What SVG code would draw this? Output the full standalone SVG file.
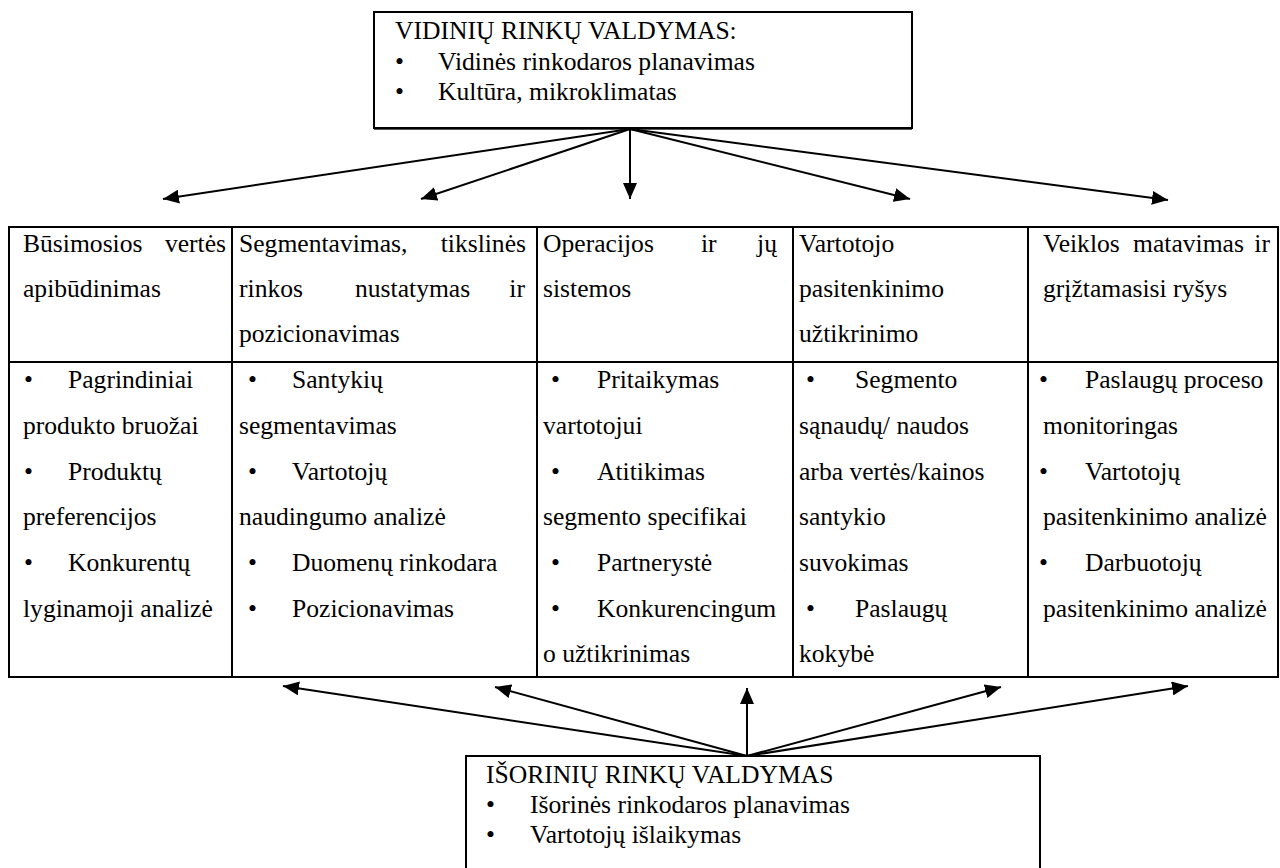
<svg xmlns="http://www.w3.org/2000/svg" width="1280" height="868" viewBox="0 0 1280 868">
<defs>
<marker id="ah" markerUnits="userSpaceOnUse" markerWidth="17" markerHeight="14" refX="16" refY="7" orient="auto">
<path d="M0,0 L16,7 L0,14 z" fill="#000"/>
</marker>
<style>
text{font-family:"Liberation Serif","Times New Roman",serif;font-size:25.6px;fill:#000}
.box{fill:#fff;stroke:#000;stroke-width:2}
.grid{stroke:#000;stroke-width:2;fill:none}
.con{stroke:#000;stroke-width:2;fill:none;marker-end:url(#ah)}
.e{text-anchor:end}
</style>
</defs>
<rect width="1280" height="868" fill="#fff"/>

<g id="top-box">
<rect class="box" x="374" y="12" width="538" height="116"/>
<line x1="374" y1="129.5" x2="912" y2="129.5" stroke="#555" stroke-width="1"/>
<text x="395" y="39">VIDINIŲ RINKŲ VALDYMAS:</text>
<text x="395" y="70">•</text><text x="438" y="70">Vidinės rinkodaros planavimas</text>
<text x="395" y="100">•</text><text x="438" y="100">Kultūra, mikroklimatas</text>
</g>

<g id="table">
<rect class="grid" x="9" y="227" width="1269" height="450"/>
<line class="grid" x1="9" y1="362" x2="1278" y2="362"/>
<line class="grid" x1="232" y1="227" x2="232" y2="677"/>
<line class="grid" x1="537" y1="227" x2="537" y2="677"/>
<line class="grid" x1="793" y1="227" x2="793" y2="677"/>
<line class="grid" x1="1028" y1="227" x2="1028" y2="677"/>
</g>

<g id="col1">
<text x="23" y="252">Būsimosios</text><text class="e" x="226" y="252">vertės</text>
<text x="23" y="297">apibūdinimas</text>
<text x="24" y="388">•</text><text x="68" y="388">Pagrindiniai</text>
<text x="23" y="434">produkto bruožai</text>
<text x="24" y="480">•</text><text x="68" y="480">Produktų</text>
<text x="23" y="525">preferencijos</text>
<text x="24" y="571">•</text><text x="68" y="571">Konkurentų</text>
<text x="23" y="617">lyginamoji analizė</text>
</g>

<g id="col2">
<text x="239" y="252">Segmentavimas,</text><text class="e" x="526" y="252">tikslinės</text>
<text x="239" y="297">rinkos</text><text x="355" y="297">nustatymas</text><text class="e" x="525" y="297">ir</text>
<text x="239" y="342">pozicionavimas</text>
<text x="248" y="388">•</text><text x="292" y="388">Santykių</text>
<text x="239" y="434">segmentavimas</text>
<text x="248" y="480">•</text><text x="292" y="480">Vartotojų</text>
<text x="239" y="525">naudingumo analizė</text>
<text x="248" y="571">•</text><text x="292" y="571">Duomenų rinkodara</text>
<text x="248" y="617">•</text><text x="292" y="617">Pozicionavimas</text>
</g>

<g id="col3">
<text x="543" y="252">Operacijos</text><text x="701" y="252">ir</text><text class="e" x="777" y="252">jų</text>
<text x="543" y="297">sistemos</text>
<text x="551" y="388">•</text><text x="597" y="388">Pritaikymas</text>
<text x="543" y="434">vartotojui</text>
<text x="551" y="480">•</text><text x="597" y="480">Atitikimas</text>
<text x="543" y="525">segmento specifikai</text>
<text x="551" y="571">•</text><text x="597" y="571">Partnerystė</text>
<text x="551" y="617">•</text><text x="597" y="617">Konkurencingum</text>
<text x="543" y="662">o užtikrinimas</text>
</g>

<g id="col4">
<text x="799" y="252">Vartotojo</text>
<text x="799" y="297">pasitenkinimo</text>
<text x="799" y="342">užtikrinimo</text>
<text x="806" y="388">•</text><text x="855" y="388">Segmento</text>
<text x="799" y="434">sąnaudų/ naudos</text>
<text x="799" y="480">arba vertės/kainos</text>
<text x="799" y="525">santykio</text>
<text x="799" y="571">suvokimas</text>
<text x="806" y="617">•</text><text x="855" y="617">Paslaugų</text>
<text x="799" y="662">kokybė</text>
</g>

<g id="col5">
<text x="1043" y="252">Veiklos</text><text x="1133" y="252">matavimas</text><text class="e" x="1270" y="252">ir</text>
<text x="1043" y="297">grįžtamasisi ryšys</text>
<text x="1039" y="388">•</text><text x="1085" y="388">Paslaugų proceso</text>
<text x="1043" y="434">monitoringas</text>
<text x="1039" y="480">•</text><text x="1085" y="480">Vartotojų</text>
<text x="1043" y="525">pasitenkinimo analizė</text>
<text x="1039" y="571">•</text><text x="1085" y="571">Darbuotojų</text>
<text x="1043" y="617">pasitenkinimo analizė</text>
</g>

<g id="bottom-box">
<rect class="box" x="466" y="756" width="574" height="130"/>
<text x="486" y="783">IŠORINIŲ RINKŲ VALDYMAS</text>
<text x="486" y="813">•</text><text x="530" y="813">Išorinės rinkodaros planavimas</text>
<text x="486" y="843">•</text><text x="530" y="843">Vartotojų išlaikymas</text>
</g>

<g id="connectors">
<line class="con" x1="630" y1="129" x2="163" y2="199"/>
<line class="con" x1="630" y1="129" x2="421" y2="199"/>
<line class="con" x1="630" y1="129" x2="630" y2="199"/>
<line class="con" x1="630" y1="129" x2="910" y2="199"/>
<line class="con" x1="630" y1="129" x2="1168" y2="200"/>
<line class="con" x1="747" y1="756" x2="283" y2="686"/>
<line class="con" x1="747" y1="756" x2="495" y2="687"/>
<line class="con" x1="747" y1="756" x2="747" y2="688"/>
<line class="con" x1="747" y1="756" x2="1001" y2="687"/>
<line class="con" x1="747" y1="756" x2="1188" y2="686"/>
</g>
</svg>
